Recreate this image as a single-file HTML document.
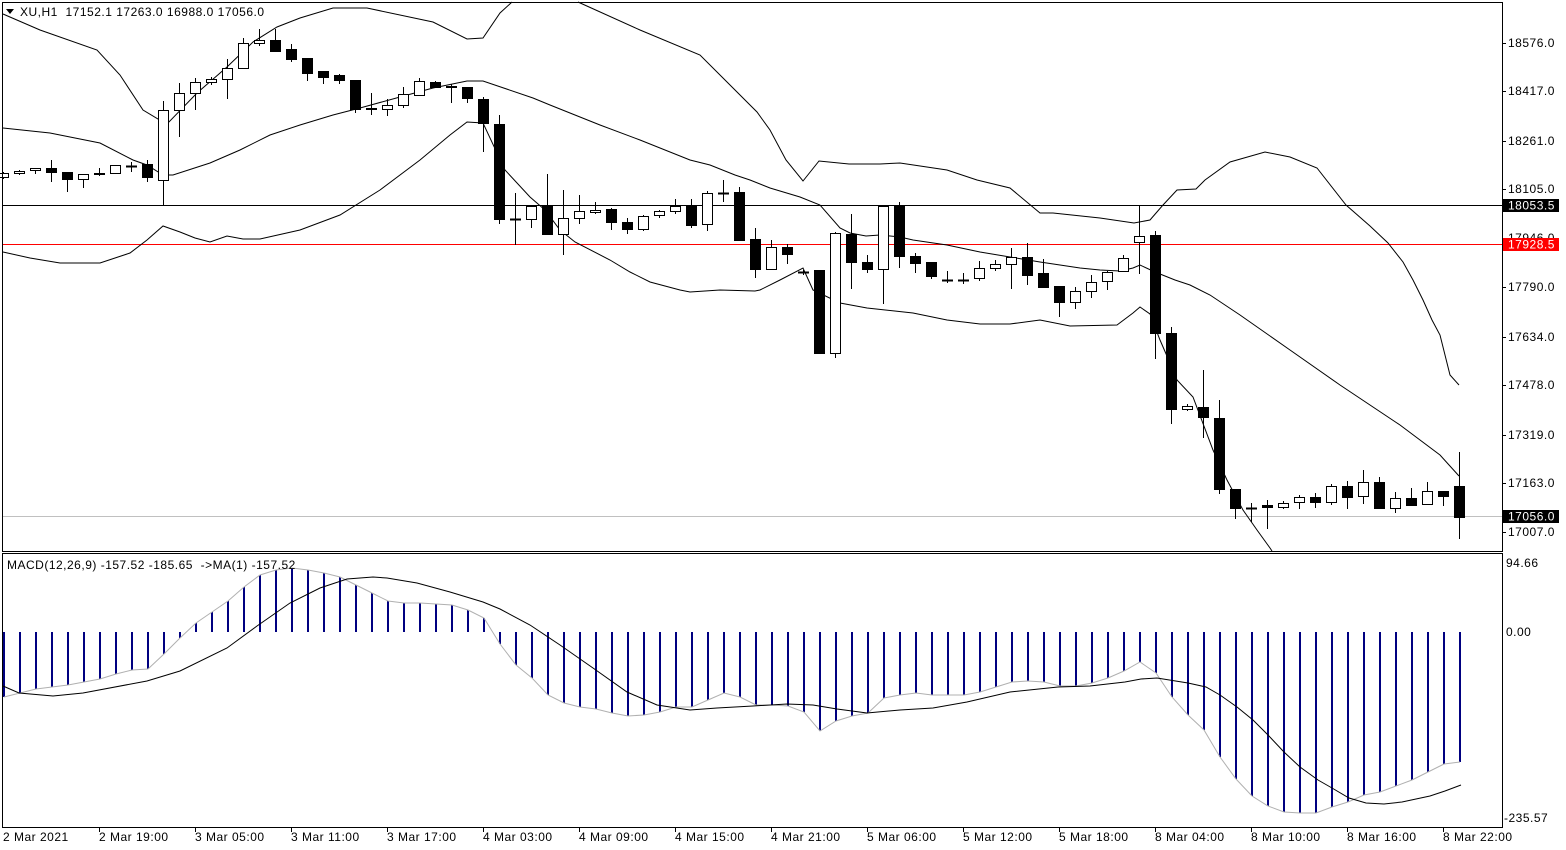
<!DOCTYPE html>
<html><head><meta charset="utf-8"><style>
html,body{margin:0;padding:0;background:#fff;}
svg{display:block;font-family:"Liberation Sans",sans-serif;font-size:12px;letter-spacing:0.5px;}
</style></head><body>
<svg id="s" width="1566" height="850" viewBox="0 0 1566 850" xmlns="http://www.w3.org/2000/svg">
<rect x="0" y="0" width="1566" height="850" fill="#fff"/>
<g id="g"></g>
<rect x="2.5" y="2.5" width="1500" height="549" fill="none" stroke="#000"/>
<rect x="2.5" y="553.5" width="1500" height="274" fill="none" stroke="#000"/>
<g fill="#000">
<text x="1508" y="47">18576.0</text>
<text x="1508" y="95">18417.0</text>
<text x="1508" y="145">18261.0</text>
<text x="1508" y="193">18105.0</text>
<text x="1508" y="242">17946.0</text>
<text x="1508" y="291">17790.0</text>
<text x="1508" y="341">17634.0</text>
<text x="1508" y="389">17478.0</text>
<text x="1508" y="439">17319.0</text>
<text x="1508" y="487">17163.0</text>
<text x="1508" y="536">17007.0</text>
<text x="1506" y="567">94.66</text>
<text x="1506" y="636">0.00</text>
<text x="1504" y="822">-235.57</text>
</g>
<rect x="1503" y="199" width="56" height="13" fill="#000"/>
<text x="1508" y="209.5" fill="#fff">18053.5</text>
<rect x="1503" y="238" width="56" height="13" fill="#f00"/>
<text x="1508" y="248.5" fill="#fff">17928.5</text>
<rect x="1503" y="510" width="56" height="13" fill="#000"/>
<text x="1508" y="520.5" fill="#fff">17056.0</text>
<polygon points="6,9 14,9 10,14" fill="#000"/>
<text x="20" y="16" fill="#000" xml:space="preserve">XU,H1  17152.1 17263.0 16988.0 17056.0</text>
<text x="7" y="569" fill="#000" xml:space="preserve">MACD(12,26,9) -157.52 -185.65  -&gt;MA(1) -157.52</text>
<g fill="#000">
<text x="3" y="841">2 Mar 2021</text>
<text x="99" y="841">2 Mar 19:00</text>
<text x="195" y="841">3 Mar 05:00</text>
<text x="291" y="841">3 Mar 11:00</text>
<text x="387" y="841">3 Mar 17:00</text>
<text x="483" y="841">4 Mar 03:00</text>
<text x="579" y="841">4 Mar 09:00</text>
<text x="675" y="841">4 Mar 15:00</text>
<text x="771" y="841">4 Mar 21:00</text>
<text x="867" y="841">5 Mar 06:00</text>
<text x="963" y="841">5 Mar 12:00</text>
<text x="1059" y="841">5 Mar 18:00</text>
<text x="1155" y="841">8 Mar 04:00</text>
<text x="1251" y="841">8 Mar 10:00</text>
<text x="1347" y="841">8 Mar 16:00</text>
<text x="1443" y="841">8 Mar 22:00</text>
</g>
</svg>
<script>
var NS="http://www.w3.org/2000/svg",g=document.getElementById('g');
function el(t,a){var e=document.createElementNS(NS,t);for(var k in a)e.setAttribute(k,a[k]);g.appendChild(e);return e;}
function pl(p,c,w){el('polyline',{points:p.map(function(q){return q.join(',')}).join(' '),fill:'none',stroke:c,'stroke-width':w||1});}
el('line',{x1:3,y1:205.5,x2:1502,y2:205.5,stroke:'#000'});
el('line',{x1:3,y1:244.5,x2:1502,y2:244.5,stroke:'#f00'});
el('line',{x1:3,y1:516.5,x2:1502,y2:516.5,stroke:'#c0c0c0'});
[43,91,141,189,238,287,337,385,435,483,532].forEach(function(y){el('line',{x1:1502,y1:y+.5,x2:1506,y2:y+.5,stroke:'#000'});});
[99,195,291,387,483,579,675,771,867,963,1059,1155,1251,1347,1443].forEach(function(x){el('line',{x1:x+.5,y1:827,x2:x+.5,y2:832,stroke:'#000'});});
pl([[3,14],[40,30],[97,50],[120,75],[143,110],[163,122],[168,123],[197,93],[227,67],[253,42],[277,27],[300,18],[333,8],[367,8],[433,22],[467,39],[483,38],[500,13],[512,2]],'#000');
pl([[578,2],[640,30],[700,55],[725,80],[757,112],[770,130],[786,160],[803,181],[819,161],[849,164],[880,164],[900,163],[947,170],[977,180],[1010,188],[1040,213],[1053,213],[1100,218],[1134,223],[1150,220],[1163,205],[1177,190],[1196,189],[1205,180],[1230,162],[1265,152],[1290,157],[1317,168],[1346,205],[1370,226],[1388,243],[1403,262],[1413,280],[1423,300],[1432,320],[1440,335],[1450,375],[1459,385]],'#000');
pl([[3,128],[50,133],[100,143],[133,160],[147,165],[163,175],[173,175],[210,163],[240,150],[270,135],[300,125],[333,115],[360,108],[400,97],[433,88],[467,81],[483,81],[533,98],[550,105],[600,125],[640,140],[690,160],[710,165],[735,175],[750,180],[770,188],[800,197],[820,205],[840,228],[850,233],[866,236],[880,235],[900,237],[913,240],[947,245],[980,252],[1010,257],[1040,262],[1080,268],[1100,270],[1120,271],[1133,268],[1140,265],[1155,272],[1175,280],[1190,285],[1210,295],[1240,315],[1290,350],[1340,385],[1400,425],[1440,455],[1459,476]],'#000');
pl([[3,252],[30,258],[60,263],[100,263],[130,253],[147,240],[163,226],[180,232],[195,238],[210,242],[227,236],[243,239],[260,239],[300,230],[340,215],[380,190],[420,160],[450,135],[467,122],[483,123],[505,170],[530,197],[545,210],[560,230],[575,242],[610,260],[630,272],[650,282],[680,290],[690,292],[720,290],[755,291],[760,290],[780,280],[803,268],[813,290],[840,303],[867,308],[913,313],[947,320],[980,324],[1010,324],[1040,320],[1070,326],[1117,325],[1133,313],[1140,307],[1150,314],[1160,340],[1170,363],[1177,380],[1193,397],[1213,450],[1227,480],[1243,510],[1257,530],[1270,548],[1272,551]],'#000');
var C=[[173,177,172,178,1],[171,173,170,174,1],[168,170,168,173,1],[168,172,160,181,0],[172,179,172,191,0],[174,179,174,187,1],[173,174,168,175,0],[165,173,165,173,1],[166,166,162,171,0],[164,177,160,181,0],
[110,180,101,205,1],[93,110,83,136,1],[82,93,78,109,1],[79,82,77,84,1],[68,79,59,98,1],[43,68,38,68,1],[40,43,29,45,1],[40,51,29,51,0],[49,59,44,61,0],[58,73,58,80,0],
[71,77,71,83,0],[75,80,74,83,0],[80,109,80,112,0],[108,109,93,114,0],[105,109,99,115,1],[94,105,87,107,1],[81,95,78,95,1],[82,87,81,87,0],[86,87,84,102,0],[87,98,87,102,0],
[99,123,97,151,0],[124,219,115,223,0],[219,219,193,244,0],[206,219,206,227,1],[206,234,174,234,0],[218,234,190,254,1],[211,218,195,223,1],[210,212,202,213,1],[209,222,208,229,0],[222,229,218,233,0],
[216,229,215,230,1],[211,215,210,217,1],[206,211,199,213,1],[206,225,199,227,0],[193,224,191,230,1],[193,193,180,201,0],[192,240,187,240,0],[239,269,228,277,0],[247,269,240,269,1],[247,254,244,263,0],
[272,272,270,274,0],[270,353,270,353,0],[233,353,232,357,1],[234,262,214,288,0],[262,269,255,272,0],[206,269,206,303,1],[206,256,202,267,0],[256,263,253,272,0],[262,276,262,278,0],[280,280,271,282,0],
[280,280,273,283,0],[268,278,261,280,1],[264,268,260,270,1],[257,264,248,288,1],[257,275,243,284,0],[273,287,259,287,0],[286,302,286,316,0],[291,302,287,308,1],[282,291,275,297,1],[272,281,271,289,1],
[258,271,255,271,1],[236,242,205,273,1],[235,333,231,358,0],[333,409,327,423,0],[406,409,404,410,1],[407,417,370,437,0],[418,489,400,493,0],[489,508,489,518,0],[508,508,503,521,0],[505,507,500,528,0],
[503,507,501,508,1],[497,502,495,508,1],[497,502,493,507,0],[486,502,484,504,1],[486,497,481,508,0],[482,496,470,503,1],[482,508,477,508,0],[498,508,492,512,1],[498,505,488,505,0],[491,504,482,504,1],
[491,496,491,505,0],[486,517,452,538,0]];
C.forEach(function(c,i){var x=3+16*i;
 el('line',{x1:x+.5,y1:c[2],x2:x+.5,y2:c[3]+1,stroke:'#000'});
 var h=c[1]-c[0];
 if(h<1){el('line',{x1:x-5,y1:c[0]+.5,x2:x+6,y2:c[0]+.5,stroke:'#000','stroke-width':2});}
 else if(c[4]) el('rect',{x:x-4.5,y:c[0]+.5,width:10,height:h,fill:'#fff',stroke:'#000'});
 else el('rect',{x:x-5,y:c[0],width:11,height:h+1,fill:'#000'});
});
var H=[697,693,689,687,685,682,679,674,670,669,654,638,623,612,601,587,575,570,568,570,573,577,585,593,601,603,603,604,605,610,618,644,
665,678,695,703,707,709,713,716,715,712,707,707,700,693,697,705,705,706,712,731,721,716,713,698,695,693,695,695,695,692,687,682,
681,682,686,686,683,678,671,662,673,697,715,730,757,779,796,806,812,813,813,807,802,795,792,786,780,772,764,762];
var gp=[];
H.forEach(function(y,i){var x=3+16*i;
 el('rect',{x:x,y:Math.min(y,632),width:2,height:Math.abs(y-632),fill:'#000080'});
 gp.push([x+1,y]);});
pl(gp,'#b0b0b0');
pl([[3,686],[19,693],[53,696],[83,693],[147,681],[180,671],[227,648],[257,626],[290,603],[320,588],[347,579],[373,577],[387,578],[417,583],[450,592],[483,602],[500,609],[530,625],[560,645],[593,668],[627,692],[657,705],[690,710],[717,708],[753,706],[787,704],[813,705],[837,709],[867,713],[900,710],[933,708],[967,702],[1010,692],[1058,687],[1090,686],[1125,682],[1141,679],[1157,678],[1188,683],[1206,687],[1220,695],[1237,707],[1253,720],[1268,735],[1284,752],[1300,767],[1318,780],[1332,788],[1349,798],[1366,803],[1384,804],[1402,802],[1430,796],[1445,791],[1461,785]],'#000');
</script>
</body></html>
